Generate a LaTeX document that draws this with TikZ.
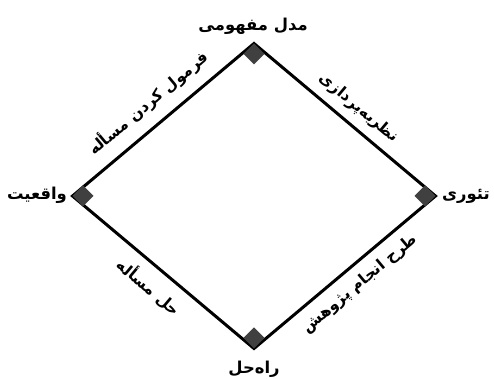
\documentclass[tikz,border=0pt]{standalone}
\usepackage{fontspec}
\newfontfamily\farsi[Script=Arabic]{DejaVu Sans}
\TeXXeTstate=1
\tikzset{
  side/.style={line width=1.5pt, line join=miter},
  cornermark/.style={fill=black!75},
  vlabel/.style={font=\farsi\bfseries\fontsize{8.2}{10}\selectfont, inner sep=0pt},
  elabel/.style={font=\farsi\bfseries\fontsize{7.8}{9.5}\selectfont, inner sep=0pt},
}
\begin{document}
\begin{tikzpicture}[x=0.5pt,y=0.5pt]
        \useasboundingbox (0,0) rectangle (494,379);
        % \draw[help lines, gray!50, very thin] (0,0) grid[step=20] (494,379);

        % corners of the diamond
        \coordinate (top) at (254,335.5);
        \coordinate (right) at (435.5,183);
        \coordinate (bottom) at (254,30.5);
        \coordinate (left) at (72.5,183);

        \draw[side] (top) -- (right) -- (bottom) -- (left) -- cycle;

        % small squares in the corners
        \foreach \c/\a in {top/-90, right/180, bottom/90, left/0}
          \fill[cornermark, shift={(\c)}, rotate=\a] (0,0) -- (10.5,10.5) -- (21,0) -- (10.5,-10.5) -- cycle;

        \node[vlabel] (model) at (253,353) {\beginR مدل مفهومی\endR};
        \node[vlabel] (theory) at (466,183) {\beginR تئوری\endR};
        \node[vlabel] (solution) at (254,10) {\beginR راه‌حل\endR};
        \node[vlabel] (reality) at (37,184) {\beginR واقعیت\endR};

        \node[elabel, rotate=40] (formulate) at (148,276) {\beginR فرمول کردن مسأله\endR};
        \node[elabel, rotate=-40] (theorize) at (359,271) {\beginR نظریه‌پردازی\endR};
        \node[elabel, rotate=40] (design) at (360,95) {\beginR طرح انجام پژوهش\endR};
        \node[elabel, rotate=-40] (solve) at (149,92) {\beginR حل مسأله\endR};
      \end{tikzpicture}
\end{document}
